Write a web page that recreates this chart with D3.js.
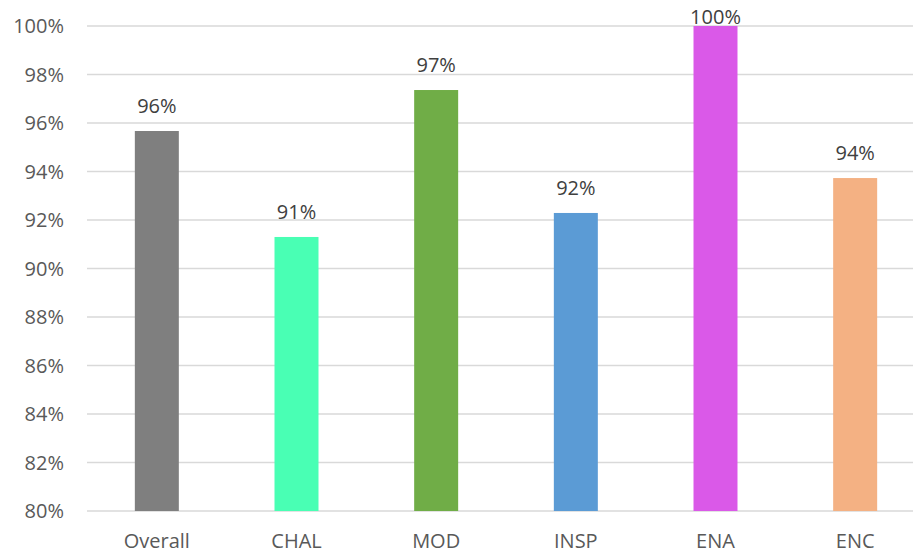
<!DOCTYPE html>
<html>
<head>
<meta charset="utf-8">
<script src="https://cdn.jsdelivr.net/npm/d3@7"></script>
<style>
  html, body { margin: 0; padding: 0; background: #fff; }
  svg { display: block; font-family: "Open Sans", sans-serif; }
</style>
</head>
<body>
<svg id="chart" width="913" height="554"></svg>
<script>
// Share of each category, as fractions
const categories = ["Overall", "CHAL", "MOD", "INSP", "ENA", "ENC"];
const values = [0.9567, 0.9130, 0.9736, 0.9229, 1.0000, 0.9373];
const colors = ["#7F7F7F", "#49FFB4", "#70AD47", "#5B9BD5", "#DA59E8", "#F4B183"];
const yTicks = [0.80, 0.82, 0.84, 0.86, 0.88, 0.90, 0.92, 0.94, 0.96, 0.98, 1.00];

const svg = d3.select("#chart");
const margin = { top: 26, left: 87, bottom: 43 };
const plotRight = 925;
const plotBottom = 554 - margin.bottom;

const x = d3.scaleBand()
  .domain(categories)
  .range([margin.left, plotRight])
  .paddingInner(0.685)
  .paddingOuter(0.3425);

const y = d3.scaleLinear()
  .domain([0.80, 1.00])
  .range([plotBottom, margin.top]);

const pct = d3.format(".0%");

// Horizontal gridlines
svg.append("g")
  .selectAll("line")
  .data(yTicks)
  .join("line")
  .attr("x1", margin.left)
  .attr("x2", plotRight)
  .attr("y1", d => y(d))
  .attr("y2", d => y(d))
  .attr("stroke", "#D9D9D9")
  .attr("stroke-width", 1.5);

// Y-axis tick labels
svg.append("g")
  .selectAll("text")
  .data(yTicks)
  .join("text")
  .attr("x", 64)
  .attr("y", d => y(d))
  .attr("dy", "0.35em")
  .attr("text-anchor", "end")
  .attr("font-size", 20)
  .attr("fill", "#595959")
  .text(d => pct(d));

// Bars
svg.append("g")
  .selectAll("rect")
  .data(categories)
  .join("rect")
  .attr("x", d => x(d))
  .attr("width", x.bandwidth())
  .attr("y", (d, i) => y(values[i]))
  .attr("height", (d, i) => plotBottom - y(values[i]))
  .attr("fill", (d, i) => colors[i]);

// Value labels above bars, kept inside the chart area
svg.append("g")
  .selectAll("text")
  .data(categories)
  .join("text")
  .attr("x", d => x(d) + x.bandwidth() / 2)
  .attr("y", (d, i) => Math.max(y(values[i]) - 18, 24))
  .attr("text-anchor", "middle")
  .attr("font-size", 20)
  .attr("fill", "#404040")
  .text((d, i) => pct(values[i]));

// Category labels
svg.append("g")
  .selectAll("text")
  .data(categories)
  .join("text")
  .attr("x", d => x(d) + x.bandwidth() / 2)
  .attr("y", 548)
  .attr("text-anchor", "middle")
  .attr("font-size", 20)
  .attr("fill", "#595959")
  .text(d => d);
</script>
</body>
</html>
